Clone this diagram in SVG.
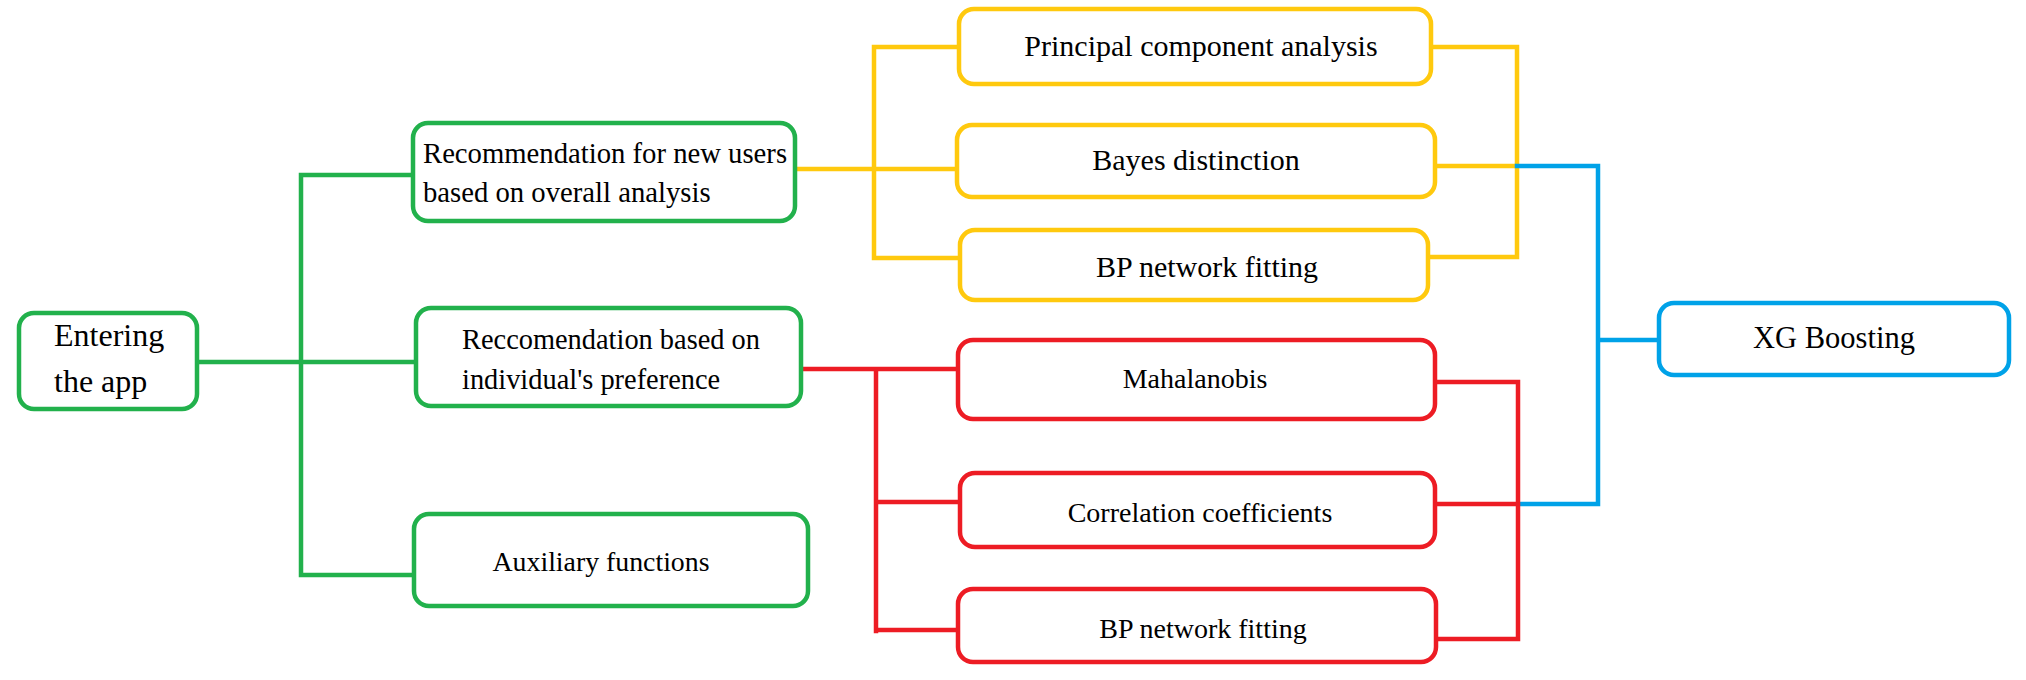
<svg xmlns="http://www.w3.org/2000/svg" width="2026" height="680" viewBox="0 0 2026 680">
<style>
  .box { fill: #ffffff; stroke-width: 4.5; }
  .g { stroke: #22B14C; }
  .y { stroke: #FFC90E; }
  .r { stroke: #ED1C24; }
  .b { stroke: #00A2E8; }
  .conn path { fill: none; stroke-width: 4.5; stroke-linecap: square; }
  text { font-family: "Liberation Serif", "Times New Roman", serif; fill: #000000; }
  .c { text-anchor: middle; }
</style>
<rect width="2026" height="680" fill="#ffffff"/>
<g id="connectors" class="conn">
  <path class="g" d="M199 362 H414 M301 175 V575 M301 175 H411 M301 575 H414"/>
  <path class="y" d="M797 169 H957 M874 47 V258 M874 47 H957 M874 258 H958"/>
  <path class="y" d="M1433 47 H1517 V257 H1430 M1437 166 H1517"/>
  <path class="b" d="M1517 166 H1598 V504 H1520 M1598 340 H1657"/>
  <path class="r" d="M803 369 H956 M876 369 V631 M876 502 H958 M876 630 H956"/>
  <path class="r" d="M1437 382 H1518 V639 H1438 M1437 504 H1518"/>
</g>
<g id="node-entering">
  <rect class="box g" x="19" y="313" width="178" height="96" rx="15"/>
  <text x="54" y="346" font-size="32">Entering</text>
  <text x="54" y="392" font-size="32">the app</text>
</g>
<g id="node-new-users">
  <rect class="box g" x="413" y="123" width="382" height="98" rx="15"/>
  <text x="423" y="163" font-size="28.7">Recommendation for new users</text>
  <text x="423" y="202" font-size="28.7">based on overall analysis</text>
</g>
<g id="node-preference">
  <rect class="box g" x="416" y="308" width="385" height="98" rx="15"/>
  <text x="462" y="349" font-size="28.4">Reccomendation based on</text>
  <text x="462" y="389" font-size="28.4">individual's preference</text>
</g>
<g id="node-auxiliary">
  <rect class="box g" x="414" y="514" width="394" height="92" rx="15"/>
  <text class="c" x="601" y="571" font-size="27.8">Auxiliary functions</text>
</g>
<g id="node-pca">
  <rect class="box y" x="959" y="9" width="472" height="75" rx="15"/>
  <text class="c" x="1201" y="56" font-size="30">Principal component analysis</text>
</g>
<g id="node-bayes">
  <rect class="box y" x="957" y="125" width="478" height="72" rx="15"/>
  <text class="c" x="1196" y="170" font-size="30">Bayes distinction</text>
</g>
<g id="node-bp1">
  <rect class="box y" x="960" y="230" width="468" height="70" rx="15"/>
  <text class="c" x="1207" y="277" font-size="30">BP network fitting</text>
</g>
<g id="node-mahalanobis">
  <rect class="box r" x="958" y="340" width="477" height="79" rx="15"/>
  <text class="c" x="1195" y="388" font-size="28">Mahalanobis</text>
</g>
<g id="node-correlation">
  <rect class="box r" x="960" y="473" width="475" height="74" rx="15"/>
  <text class="c" x="1200" y="522" font-size="28">Correlation coefficients</text>
</g>
<g id="node-bp2">
  <rect class="box r" x="958" y="589" width="478" height="73" rx="15"/>
  <text class="c" x="1203" y="638" font-size="28">BP network fitting</text>
</g>
<g id="node-xgboost">
  <rect class="box b" x="1659" y="303" width="350" height="72" rx="15"/>
  <text class="c" x="1834" y="348" font-size="30.5">XG Boosting</text>
</g>
</svg>
